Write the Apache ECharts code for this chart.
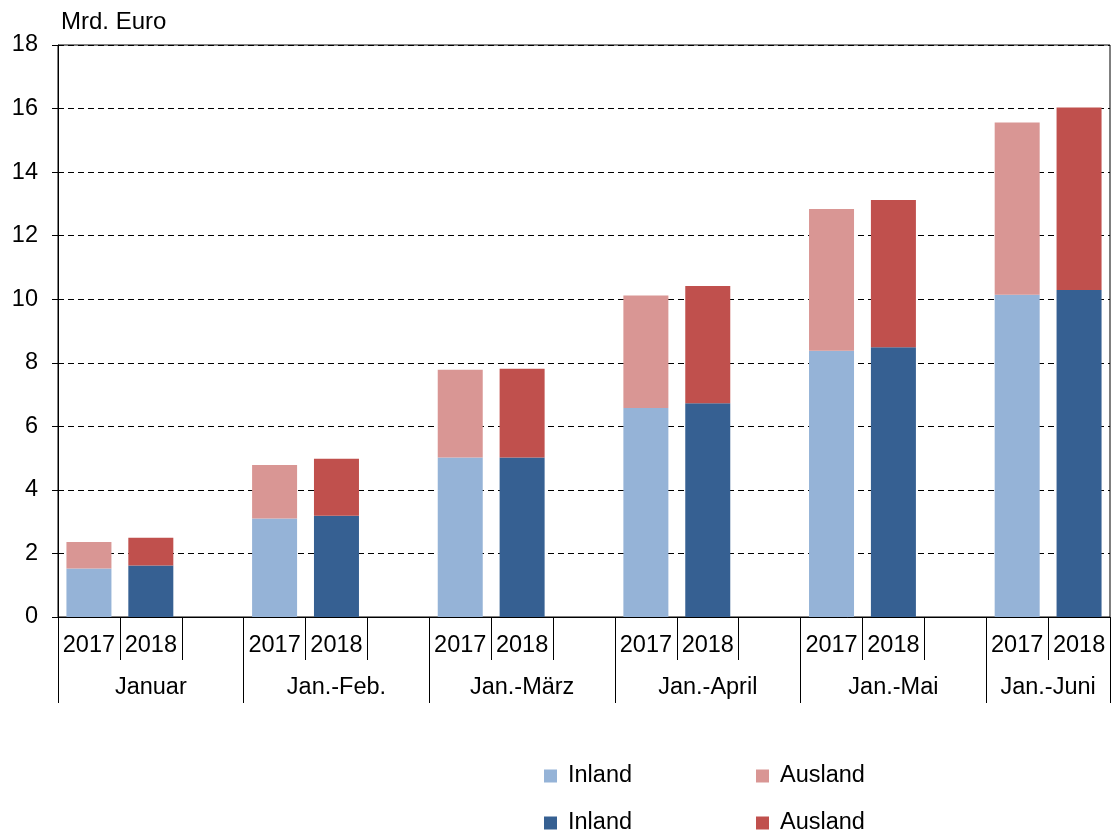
<!DOCTYPE html>
<html>
<head>
<meta charset="utf-8">
<script src="https://cdn.jsdelivr.net/npm/echarts@6/dist/echarts.min.js"></script>
<style>html,body{margin:0;padding:0;background:#fff;}#c{width:1115px;height:836px;}</style>
</head>
<body>
<div id="c"></div>
<script>
// Data
var groups = ['Januar', 'Jan.-Feb.', 'Jan.-März', 'Jan.-April', 'Jan.-Mai', 'Jan.-Juni'];
var yearLabels = ['2017','2018','', '2017','2018','', '2017','2018','', '2017','2018','', '2017','2018','', '2017','2018'];
var inland2017  = [1.53, 3.10, 5.02, 6.58, 8.38, 10.14];
var ausland2017 = [0.83, 1.68, 2.76, 3.54, 4.46, 5.42];
var inland2018  = [1.62, 3.19, 5.02, 6.73, 8.49, 10.29];
var ausland2018 = [0.87, 1.79, 2.79, 3.69, 4.63, 5.74];
var yTicks = [0, 2, 4, 6, 8, 10, 12, 14, 16, 18];

function place(vals, offset) {
  var arr = yearLabels.map(function () { return '-'; });
  vals.forEach(function (v, g) { arr[g * 3 + offset] = v; });
  return arr;
}
var groupTickPos = [];
var groupLabelPos = [];
groups.forEach(function (g, i) {
  groupTickPos.push(i * 3);
  var end = Math.min(i * 3 + 3, yearLabels.length);
  groupLabelPos.push((i * 3 + end) / 2);
});
groupTickPos.push(yearLabels.length);

var FONT = 'Liberation Sans, Arial, sans-serif';
var FS = 23.5;
var chart = echarts.init(document.getElementById('c'));
function legendAt(name, left, top) {
  return {
    data: [name], left: left, top: top, padding: 0,
    itemWidth: 13, itemHeight: 13, icon: 'rect', selectedMode: false,
    formatter: function (n) { return n.split(' ')[0]; },
    textStyle: { fontFamily: FONT, fontSize: FS, color: '#000', padding: [0, 0, 0, 6] }
  };
}
chart.setOption({
  animation: false,
  title: { text: 'Mrd. Euro', left: 61, top: 10, padding: 0,
    textStyle: { fontFamily: FONT, fontSize: 24, fontWeight: 'normal', color: '#000' } },
  grid: { left: 58, right: 5, top: 45, bottom: 219, show: true, borderColor: '#000', borderWidth: 1, backgroundColor: 'transparent' },
  legend: [
    legendAt('Inland 2017', 544, 764),
    legendAt('Ausland 2017', 756, 764),
    legendAt('Inland 2018', 544, 811),
    legendAt('Ausland 2018', 756, 811)
  ],
  xAxis: [{
    type: 'category', data: yearLabels, position: 'bottom',
    axisLine: { show: true, lineStyle: { color: '#000', width: 1 } },
    axisTick: { show: true, interval: 0, length: 43, lineStyle: { color: '#000' } },
    axisLabel: { interval: 0, margin: 17, fontFamily: FONT, fontSize: FS, color: '#000' },
    splitLine: { show: false }
  }, {
    type: 'value', min: 0, max: yearLabels.length, position: 'bottom',
    axisLine: { show: false },
    axisTick: { show: true, customValues: groupTickPos, length: 86, lineStyle: { color: '#000' } },
    axisLabel: { customValues: groupLabelPos, margin: 59, fontFamily: FONT, fontSize: FS, color: '#000',
      formatter: function (v) { var i = groupLabelPos.indexOf(v); return i >= 0 ? groups[i] : ''; } },
    splitLine: { show: false }
  }],
  yAxis: {
    type: 'value', min: 0, max: 18, interval: 2,
    axisLine: { show: true, lineStyle: { color: '#000', width: 1 } },
    axisTick: { show: true, inside: false, length: 6, lineStyle: { color: '#000' } },
    axisLabel: { margin: 20, fontFamily: FONT, fontSize: FS, color: '#000',
      customValues: yTicks },
    splitLine: { show: true, lineStyle: { color: '#000', type: [6, 4], width: 1 } }
  },
  series: [
    { name: 'Inland 2017', type: 'bar', stack: 's', barWidth: 45, data: place(inland2017, 0), itemStyle: { color: '#95B3D7' } },
    { name: 'Ausland 2017', type: 'bar', stack: 's', barWidth: 45, data: place(ausland2017, 0), itemStyle: { color: '#D99694' } },
    { name: 'Inland 2018', type: 'bar', stack: 's', barWidth: 45, data: place(inland2018, 1), itemStyle: { color: '#366092' } },
    { name: 'Ausland 2018', type: 'bar', stack: 's', barWidth: 45, data: place(ausland2018, 1), itemStyle: { color: '#C0504D' } }
  ]
});
</script>
</body>
</html>
